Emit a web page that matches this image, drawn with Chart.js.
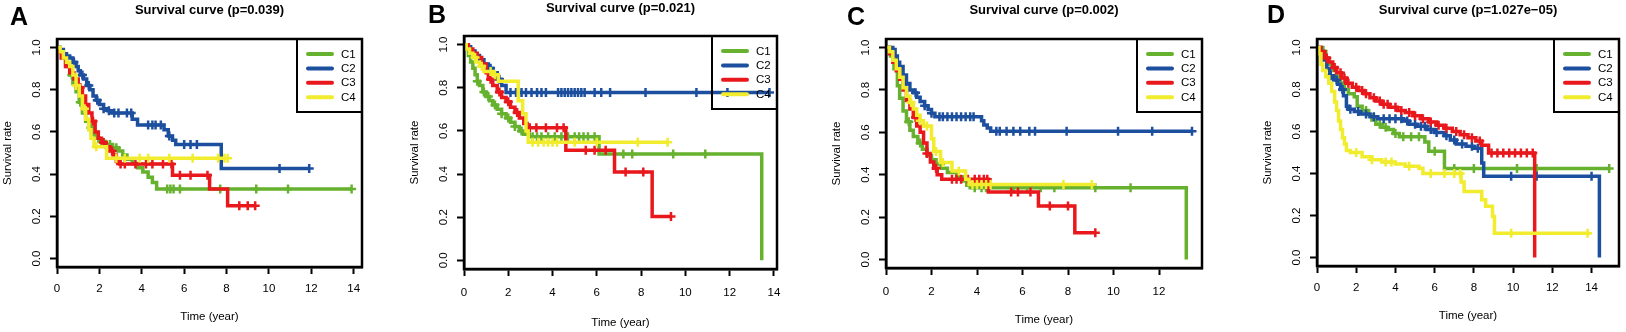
<!DOCTYPE html>
<html>
<head>
<meta charset="utf-8">
<script src="https://cdn.jsdelivr.net/npm/chart.js@4/dist/chart.umd.min.js"></script>
<style>
  body { margin: 0; background: #fff; width: 1626px; height: 332px; position: relative; overflow: hidden; }
  canvas { position: absolute; top: 0; }
  .tag { position: absolute; font: bold 25px "Liberation Sans", Arial, sans-serif; line-height: 25px; color: #000; }
</style>
</head>
<body>
<canvas id="panelA" width="406" height="332" style="left:0px"></canvas>
<canvas id="panelB" width="406" height="332" style="left:406px"></canvas>
<canvas id="panelC" width="406" height="332" style="left:812px"></canvas>
<canvas id="panelD" width="408" height="332" style="left:1218px"></canvas>
<div class="tag" style="left:10px;top:4px">A</div>
<div class="tag" style="left:428px;top:2px">B</div>
<div class="tag" style="left:847px;top:4px">C</div>
<div class="tag" style="left:1267px;top:2px">D</div>
<script>
// groups and titles
const groupNames = ['C1', 'C2', 'C3', 'C4'];
const panelTitles = ['Survival curve (p=0.039)', 'Survival curve (p=0.021)', 'Survival curve (p=0.002)', 'Survival curve (p=1.027e\u221205)'];
const yTickStep = 0.2;
const xTickStep = 2;

// panel A : step times / survival / censored times
const aC1Time = [0, 0.15, 0.3, 0.45, 0.6, 0.75, 0.9, 1.05, 1.2, 1.35, 1.5, 1.65, 1.8, 2.0, 2.3, 2.6, 2.9, 3.1, 3.3, 3.55, 3.8, 4.05, 4.3, 4.5, 4.7, 13.9];
const aC1Surv = [1, 0.98, 0.95, 0.91, 0.87, 0.83, 0.79, 0.74, 0.69, 0.65, 0.62, 0.59, 0.57, 0.555, 0.54, 0.525, 0.51, 0.49, 0.47, 0.45, 0.43, 0.41, 0.385, 0.36, 0.33, 0.33];
const aC1Cens = [0.7, 1.1, 1.6, 2.1, 2.5, 2.8, 5.2, 5.35, 5.5, 5.8, 7.7, 9.4, 10.9, 13.9];
const aC2Time = [0, 0.15, 0.3, 0.45, 0.6, 0.75, 0.9, 1.0, 1.1, 1.25, 1.4, 1.55, 1.7, 1.85, 2.0, 2.2, 2.4, 2.6, 3.55, 3.8, 5.05, 5.25, 5.45, 5.6, 7.75, 11.9];
const aC2Surv = [1, 0.99, 0.97, 0.96, 0.95, 0.93, 0.91, 0.89, 0.87, 0.85, 0.82, 0.80, 0.77, 0.75, 0.73, 0.71, 0.70, 0.69, 0.66, 0.633, 0.61, 0.58, 0.56, 0.54, 0.427, 0.427];
const aC2Cens = [0.8, 1.2, 1.5, 1.9, 2.2, 2.45, 2.7, 2.9, 3.3, 3.5, 4.3, 4.5, 4.65, 4.9, 5.3, 6.0, 6.3, 6.6, 10.5, 11.9];
const aC3Time = [0, 0.05, 0.2, 0.4, 0.6, 0.8, 1.0, 1.2, 1.35, 1.5, 1.65, 1.8, 1.95, 2.1, 2.3, 2.5, 2.65, 2.8, 2.95, 5.45, 7.2, 8.05, 9.35];
const aC3Surv = [1, 0.98, 0.95, 0.91, 0.88, 0.85, 0.81, 0.77, 0.73, 0.69, 0.65, 0.60, 0.57, 0.55, 0.53, 0.51, 0.49, 0.46, 0.448, 0.395, 0.33, 0.25, 0.25];
const aC3Cens = [1.1, 1.7, 2.2, 2.6, 3.0, 3.2, 3.7, 4.2, 4.5, 5.0, 5.4, 5.8, 6.3, 7.1, 8.6, 9.0, 9.35];
const aC4Time = [0, 0.15, 0.3, 0.45, 0.6, 0.75, 0.9, 1.05, 1.2, 1.35, 1.5, 1.6, 1.75, 2.34, 8.05];
const aC4Surv = [1, 0.98, 0.95, 0.93, 0.91, 0.87, 0.82, 0.77, 0.71, 0.66, 0.61, 0.57, 0.53, 0.475, 0.475];
const aC4Cens = [0.9, 1.3, 1.85, 2.8, 3.2, 3.9, 4.3, 5.3, 6.4, 7.6, 7.9, 8.05];

// panel B
const bC1Time = [0, 0.1, 0.2, 0.3, 0.4, 0.5, 0.6, 0.7, 0.85, 1.0, 1.15, 1.3, 1.5, 1.7, 1.9, 2.1, 2.3, 2.5, 2.7, 2.95, 6.1, 13.45];
const bC1Surv = [1, 0.98, 0.95, 0.92, 0.89, 0.86, 0.83, 0.81, 0.78, 0.76, 0.74, 0.72, 0.70, 0.68, 0.66, 0.64, 0.62, 0.60, 0.585, 0.573, 0.493, 0];
const bC1Cens = [0.6, 0.9, 1.1, 1.4, 1.7, 2.0, 2.3, 2.6, 3.1, 3.3, 3.5, 3.8, 4.1, 4.4, 4.7, 5.0, 5.2, 5.4, 5.6, 5.9, 7.2, 7.6, 9.45, 10.9];
const bC2Time = [0, 0.15, 0.3, 0.5, 0.7, 0.9, 1.1, 1.3, 1.5, 1.7, 1.9, 13.8];
const bC2Surv = [1, 0.99, 0.97, 0.95, 0.93, 0.91, 0.89, 0.87, 0.84, 0.81, 0.778, 0.778];
const bC2Cens = [1.2, 1.6, 2.1, 2.35, 2.6, 2.8, 3.05, 3.3, 3.5, 3.7, 4.25, 4.4, 4.55, 4.7, 4.85, 5.0, 5.15, 5.3, 5.45, 5.9, 6.2, 6.6, 8.2, 10.5, 11.9, 13.8];
const bC3Time = [0, 0.2, 0.4, 0.6, 0.8, 1.0, 1.1, 1.3, 1.5, 1.7, 1.9, 2.1, 2.3, 2.5, 2.7, 2.85, 4.6, 6.8, 8.5, 9.35];
const bC3Surv = [1, 0.98, 0.96, 0.94, 0.91, 0.87, 0.84, 0.81, 0.78, 0.755, 0.735, 0.71, 0.685, 0.66, 0.635, 0.615, 0.51, 0.41, 0.203, 0.203];
const bC3Cens = [1.2, 1.6, 2.0, 2.4, 2.97, 3.27, 3.7, 4.2, 4.5, 5.5, 5.9, 6.4, 7.3, 8.1, 9.35];
const bC4Time = [0, 0.1, 0.25, 0.4, 0.55, 0.7, 0.9, 1.3, 1.55, 2.45, 2.65, 2.8, 2.9, 9.2];
const bC4Surv = [1, 0.98, 0.96, 0.94, 0.92, 0.90, 0.875, 0.86, 0.83, 0.74, 0.68, 0.6, 0.548, 0.548];
const bC4Cens = [0.5, 0.8, 1.2, 1.4, 3.1, 3.35, 3.6, 3.8, 4.0, 4.2, 5.0, 6.0, 7.85, 9.2];

// panel C
const cC1Time = [0, 0.2, 0.35, 0.5, 0.6, 0.75, 0.9, 1.05, 1.2, 1.4, 1.6, 1.8, 2.0, 2.2, 2.45, 2.7, 3.1, 3.35, 3.55, 3.7, 13.2];
const cC1Surv = [1, 0.96, 0.90, 0.82, 0.76, 0.70, 0.65, 0.61, 0.58, 0.55, 0.52, 0.49, 0.47, 0.45, 0.43, 0.41, 0.39, 0.37, 0.35, 0.339, 0];
const cC1Cens = [1.0, 1.5, 2.4, 3.9, 4.2, 4.4, 5.6, 6.2, 6.8, 7.4, 9.2, 10.75];
const cC2Time = [0, 0.3, 0.4, 0.5, 0.6, 0.75, 0.9, 1.05, 1.2, 1.35, 1.5, 1.7, 1.85, 2.0, 2.15, 4.2, 4.3, 4.45, 4.6, 13.45];
const cC2Surv = [1, 0.99, 0.96, 0.93, 0.91, 0.87, 0.83, 0.80, 0.786, 0.765, 0.745, 0.725, 0.708, 0.69, 0.673, 0.655, 0.635, 0.62, 0.605, 0.605];
const cC2Cens = [0.9, 1.3, 1.7, 2.0, 2.35, 2.5, 2.7, 2.9, 3.1, 3.3, 3.5, 3.7, 3.85, 4.85, 5.0, 5.3, 5.6, 5.9, 6.3, 6.55, 7.94, 10.2, 11.7, 13.45];
const cC3Time = [0, 0.15, 0.3, 0.45, 0.6, 0.75, 0.9, 1.05, 1.2, 1.35, 1.5, 1.65, 1.8, 1.95, 2.1, 2.25, 2.45, 4.5, 6.7, 8.3, 9.2];
const cC3Surv = [1, 0.97, 0.93, 0.89, 0.85, 0.80, 0.75, 0.71, 0.67, 0.63, 0.60, 0.55, 0.50, 0.46, 0.43, 0.40, 0.378, 0.318, 0.252, 0.126, 0.126];
const cC3Cens = [1.3, 1.8, 2.2, 2.9, 3.1, 3.3, 3.6, 3.9, 4.1, 4.3, 4.45, 5.5, 5.8, 6.35, 7.2, 8.0, 9.2];
const cC4Time = [0, 0.15, 0.3, 0.45, 0.6, 0.75, 0.9, 1.05, 1.2, 1.35, 1.5, 1.65, 2.0, 2.1, 2.4, 2.9, 3.5, 3.65, 9.05];
const cC4Surv = [1, 0.98, 0.94, 0.90, 0.86, 0.81, 0.77, 0.74, 0.71, 0.68, 0.655, 0.63, 0.57, 0.51, 0.457, 0.417, 0.378, 0.354, 0.354];
const cC4Cens = [1.1, 1.5, 1.8, 2.2, 2.5, 3.2, 3.8, 4.0, 4.2, 4.4, 4.6, 7.8, 9.05];

// panel D
const dC1Time = [0, 0.3, 0.45, 0.6, 0.8, 1.0, 1.2, 1.4, 1.6, 1.9, 2.05, 2.3, 2.6, 2.8, 3.0, 3.3, 3.6, 3.9, 4.2, 5.5, 5.7, 6.5, 14.9];
const dC1Surv = [1, 0.98, 0.95, 0.92, 0.89, 0.86, 0.83, 0.80, 0.78, 0.765, 0.72, 0.70, 0.68, 0.655, 0.635, 0.62, 0.61, 0.59, 0.575, 0.55, 0.506, 0.424, 0.424];
const dC1Cens = [2.5, 3.2, 3.5, 4.0, 4.4, 4.8, 5.2, 6.0, 7.0, 8.0, 10.2, 11.2, 14.9];
const dC2Time = [0, 0.2, 0.35, 0.5, 0.65, 0.85, 1.05, 1.2, 1.35, 1.5, 1.6, 1.9, 2.2, 2.7, 3.1, 4.4, 4.7, 5.1, 5.6, 6.0, 6.5, 6.8, 7.1, 7.6, 8.0, 8.4, 8.5, 14.4];
const dC2Surv = [1, 0.98, 0.94, 0.90, 0.865, 0.845, 0.825, 0.80, 0.77, 0.72, 0.706, 0.695, 0.683, 0.67, 0.66, 0.65, 0.635, 0.625, 0.61, 0.595, 0.58, 0.56, 0.54, 0.53, 0.52, 0.45, 0.387, 0];
const dC2Cens = [0.7, 1.0, 1.3, 1.7, 2.1, 2.5, 2.9, 3.4, 3.7, 4.0, 4.3, 4.6, 5.0, 5.3, 5.5, 5.8, 6.1, 6.6, 7.0, 7.4, 7.9, 8.2, 9.9, 11.2, 14.0];
const dC3Time = [0, 0.2, 0.4, 0.6, 0.8, 1.0, 1.25, 1.5, 1.8, 2.1, 2.4, 2.7, 3.0, 3.3, 3.7, 4.1, 4.5, 4.9, 5.3, 5.7, 6.1, 6.5, 6.9, 7.3, 7.7, 8.1, 8.4, 8.75, 11.1];
const dC3Surv = [1, 0.98, 0.95, 0.93, 0.905, 0.88, 0.855, 0.83, 0.81, 0.795, 0.78, 0.76, 0.745, 0.73, 0.715, 0.70, 0.69, 0.675, 0.66, 0.645, 0.63, 0.615, 0.60, 0.585, 0.57, 0.555, 0.535, 0.498, 0];
const dC3Cens = [0.5, 0.9, 1.2, 1.4, 1.6, 2.0, 2.3, 2.5, 2.9, 3.2, 3.4, 3.6, 4.0, 4.3, 4.7, 5.0, 5.4, 5.8, 6.2, 6.6, 7.1, 7.5, 7.9, 8.3, 8.9, 9.2, 9.5, 9.8, 10.1, 10.4, 10.7, 11.0];
const dC4Time = [0, 0.1, 0.2, 0.3, 0.45, 0.6, 0.75, 0.9, 1.0, 1.1, 1.2, 1.3, 1.4, 1.5, 1.7, 2.3, 2.8, 3.3, 4.0, 4.5, 5.2, 5.4, 7.35, 7.5, 8.4, 8.6, 8.95, 9.05, 13.9];
const dC4Surv = [1, 0.97, 0.92, 0.89, 0.86, 0.83, 0.79, 0.74, 0.70, 0.65, 0.61, 0.57, 0.54, 0.51, 0.50, 0.48, 0.465, 0.455, 0.445, 0.435, 0.425, 0.40, 0.36, 0.315, 0.275, 0.244, 0.196, 0.116, 0.116];
const dC4Cens = [2.0, 2.8, 3.5, 3.8, 4.7, 5.8, 6.5, 7.0, 7.3, 9.9, 13.8];

const seriesColors = ['#66b22f', '#1d4f9f', '#e8181d', '#f1ec2d'];

// placement of each panel (page px): plot box and paddings
const panels = [
    { id: 'panelA', title: panelTitles[0], xMax: 14.39, padL: 0, padR: 44, caTop: 39, caBottom: 267, titleTop: 3, tickPadX: 8, xTitlePad: 8,
      curves: [[aC1Time, aC1Surv, aC1Cens], [aC2Time, aC2Surv, aC2Cens], [aC3Time, aC3Surv, aC3Cens], [aC4Time, aC4Surv, aC4Cens]] },
    { id: 'panelB', title: panelTitles[1], xMax: 14.14, padL: 1, padR: 35, caTop: 36, caBottom: 269, titleTop: 1, tickPadX: 10, xTitlePad: 2,
      curves: [[bC1Time, bC1Surv, bC1Cens], [bC2Time, bC2Surv, bC2Cens], [bC3Time, bC3Surv, bC3Cens], [bC4Time, bC4Surv, bC4Cens]] },
    { id: 'panelC', title: panelTitles[2], xMax: 13.89, padL: 17, padR: 16, caTop: 39, caBottom: 268, titleTop: 3, tickPadX: 10, xTitlePad: 5,
      curves: [[cC1Time, cC1Surv, cC1Cens], [cC2Time, cC2Surv, cC2Cens], [cC3Time, cC3Surv, cC3Cens], [cC4Time, cC4Surv, cC4Cens]] },
    { id: 'panelD', title: panelTitles[3], xMax: 15.4, padL: 42, padR: 2, caTop: 39, caBottom: 266, titleTop: 3, tickPadX: 8, xTitlePad: 9,
      curves: [[dC1Time, dC1Surv, dC1Cens], [dC2Time, dC2Surv, dC2Cens], [dC3Time, dC3Surv, dC3Cens], [dC4Time, dC4Surv, dC4Cens]] }
];

Chart.defaults.font.family = '"Liberation Sans", Arial, sans-serif';
Chart.defaults.color = '#000';

function survAt(times, surv, t) {
    let s = surv[0];
    for (let i = 0; i < times.length; i++) {
        if (times[i] <= t) s = surv[i];
    }
    return s;
}

// box round the plot region, like R's bty="o"
const frameBox = {
    id: 'frameBox',
    afterDatasetsDraw(chart) {
        const { ctx, chartArea: a } = chart;
        ctx.save();
        ctx.strokeStyle = '#000';
        ctx.lineWidth = 2.5;
        ctx.strokeRect(a.left, a.top, a.right - a.left, a.bottom - a.top);
        ctx.restore();
    }
};

// legend in the top right corner of the plot box
const kmLegend = {
    id: 'kmLegend',
    afterDatasetsDraw(chart) {
        const { ctx, chartArea: a } = chart;
        const items = chart.data.datasets.filter(d => !d.censor);
        const w = 65, h = 73;
        const x0 = a.right - w, y0 = a.top;
        ctx.save();
        ctx.strokeStyle = '#000';
        ctx.lineWidth = 2;
        ctx.strokeRect(x0, y0, w, h);
        ctx.font = '11.5px "Liberation Sans", Arial, sans-serif';
        ctx.textBaseline = 'middle';
        ctx.textAlign = 'left';
        items.forEach((d, i) => {
            const y = y0 + 15 + i * 14.4;
            ctx.strokeStyle = d.borderColor;
            ctx.lineWidth = 4;
            ctx.lineCap = 'round';
            ctx.beginPath();
            ctx.moveTo(x0 + 11, y);
            ctx.lineTo(x0 + 35, y);
            ctx.stroke();
            ctx.fillStyle = '#000';
            ctx.fillText(d.label, x0 + 44, y + 0.5);
        });
        ctx.restore();
    }
};

function buildDatasets(curves) {
    const sets = [];
    curves.forEach((c, i) => {
        const times = c[0], surv = c[1], cens = c[2];
        const color = seriesColors[i];
        sets.push({
            label: groupNames[i],
            data: times.map((t, k) => ({ x: t, y: surv[k] })),
            showLine: true,
            stepped: 'before',
            borderColor: color,
            backgroundColor: color,
            borderWidth: 3.5,
            pointRadius: 0,
            fill: false,
            order: 10 - i * 2
        });
        sets.push({
            label: groupNames[i] + ' censored',
            censor: true,
            data: cens.map(t => ({ x: t, y: survAt(times, surv, t) })),
            showLine: false,
            pointStyle: 'cross',
            pointRadius: 4.5,
            pointBorderWidth: 2.5,
            borderColor: color,
            backgroundColor: color,
            order: 9 - i * 2
        });
    });
    return sets;
}

function renderPanel(p) {
    const canvas = document.getElementById(p.id);
    const axisGrid = {
        drawOnChartArea: false,
        drawTicks: true,
        tickLength: 7,
        tickWidth: 2,
        tickColor: '#000',
        color: '#000'
    };
    new Chart(canvas, {
        type: 'scatter',
        data: { datasets: buildDatasets(p.curves) },
        options: {
            responsive: false,
            animation: false,
            events: [],
            devicePixelRatio: 1,
            layout: { padding: { left: p.padL, right: p.padR, top: 0, bottom: 0 } },
            plugins: {
                legend: { display: false },
                tooltip: { enabled: false },
                title: {
                    display: true,
                    fullSize: false,
                    text: p.title,
                    color: '#000',
                    font: { size: 13, weight: 'bold' },
                    padding: { top: p.titleTop, bottom: p.caTop - p.titleTop - 15.6 }
                }
            },
            scales: {
                x: {
                    type: 'linear',
                    min: 0,
                    max: p.xMax,
                    grid: axisGrid,
                    border: { display: true, color: '#000', width: 2.5 },
                    ticks: {
                        stepSize: xTickStep,
                        includeBounds: false,
                        autoSkip: false,
                        maxRotation: 0,
                        padding: p.tickPadX,
                        color: '#000',
                        font: { size: 11.5 },
                        callback: v => String(v)
                    },
                    title: { display: true, text: 'Time (year)', color: '#000', font: { size: 11.5 }, padding: { top: 0, bottom: p.xTitlePad } },
                    afterFit(scale) { scale.height = 332 - p.caBottom; }
                },
                y: {
                    type: 'linear',
                    min: -0.04,
                    max: 1.04,
                    grid: axisGrid,
                    border: { display: true, color: '#000', width: 2.5 },
                    ticks: {
                        stepSize: yTickStep,
                        includeBounds: false,
                        minRotation: 90,
                        maxRotation: 90,
                        crossAlign: 'center',
                        padding: 5,
                        color: '#000',
                        font: { size: 11.5 },
                        callback: v => Number(v).toFixed(1)
                    },
                    title: { display: true, text: 'Survival rate', color: '#000', font: { size: 11.5 }, padding: { top: 1, bottom: 0 } },
                    afterFit(scale) { scale.width = 57; }
                }
            }
        },
        plugins: [frameBox, kmLegend]
    });
}

panels.forEach(renderPanel);
</script>
</body>
</html>
